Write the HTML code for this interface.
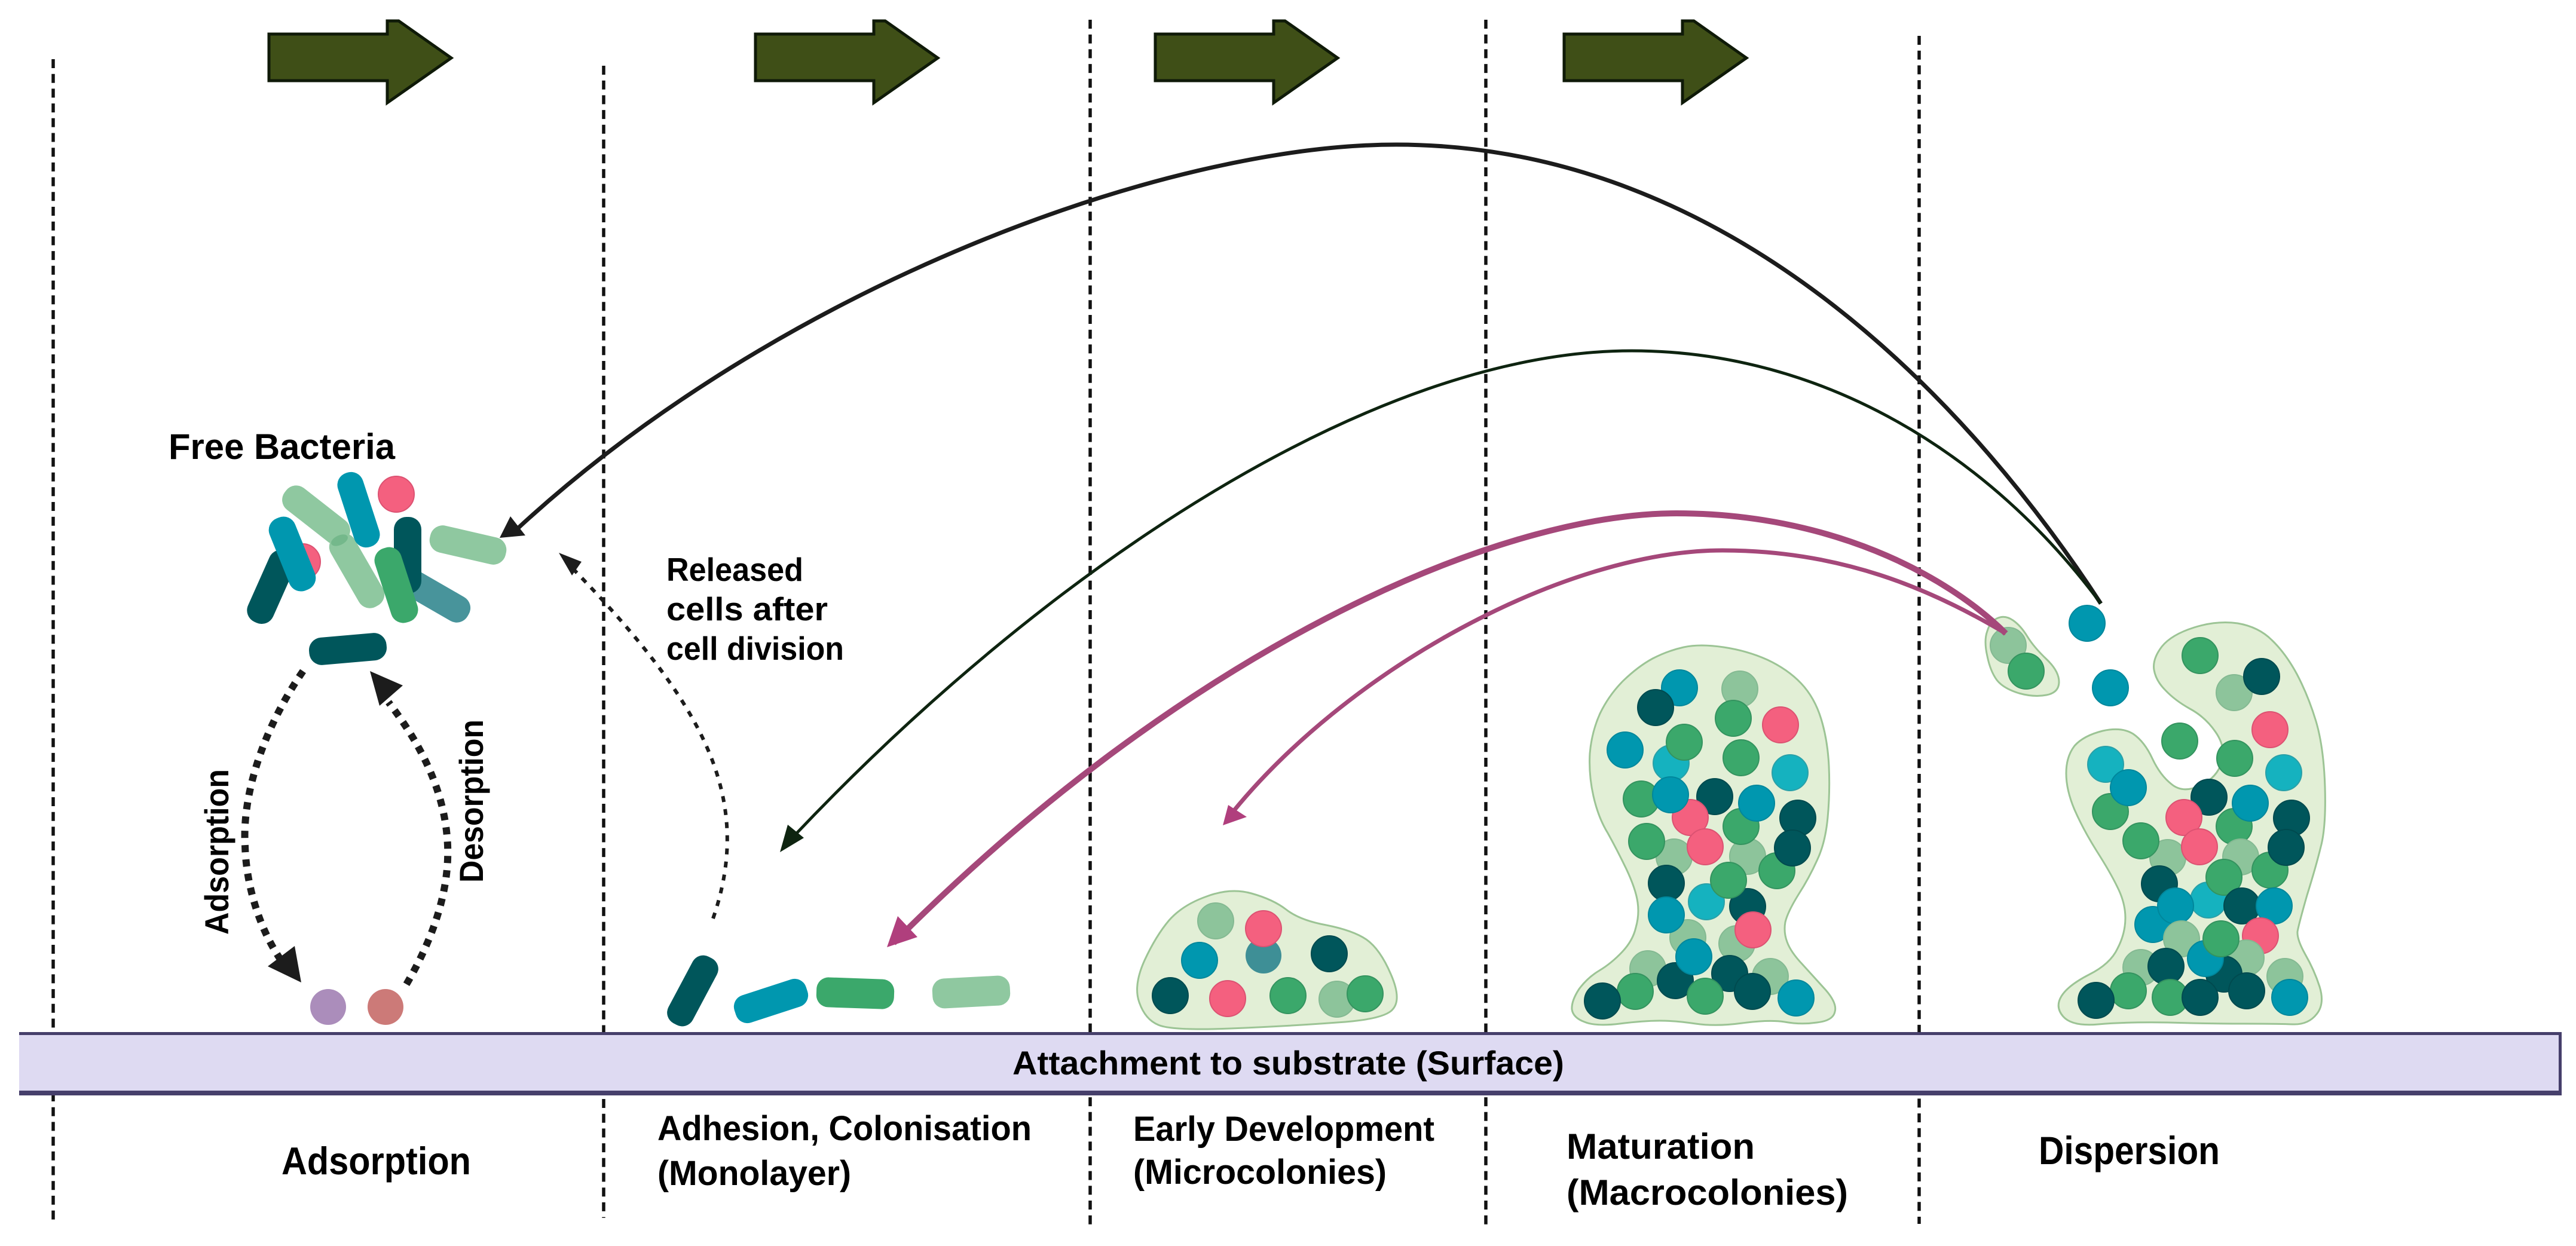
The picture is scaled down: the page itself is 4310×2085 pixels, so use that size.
<!DOCTYPE html>
<html><head><meta charset="utf-8"><style>
html,body{margin:0;padding:0;background:#fff}
svg{display:block}
text{font-family:"Liberation Sans",sans-serif;font-weight:700;font-size:58px;fill:#000}
.d{stroke:#111;stroke-width:5.5;stroke-dasharray:15 9.7;fill:none}
.t{fill:#0097af;stroke:#00879c;stroke-width:2}
.k{fill:#00565b;stroke:#004a4f;stroke-width:2}
.g{fill:#3ba86b;stroke:#34935f;stroke-width:2}
.l{fill:#8dc49b;stroke:#84b992;stroke-width:2}
.p{fill:#f4607f;stroke:#dc5272;stroke-width:2}
.c{fill:#15b2bf;stroke:#2aa0a8;stroke-width:2}
.b{fill:#e2efd6;stroke:#9cc495;stroke-width:3}
.a{fill:#3f4f17;stroke:#0f1a08;stroke-width:5}
</style></head><body>
<svg width="4310" height="2085" viewBox="0 0 4310 2085" xmlns="http://www.w3.org/2000/svg">
<rect width="4310" height="2085" fill="#fff"/>
<line class="d" x1="89" y1="99" x2="89" y2="2048"/>
<line class="d" x1="1010" y1="110" x2="1010" y2="2038"/>
<line class="d" x1="1824" y1="33" x2="1824" y2="2050"/>
<line class="d" x1="2486" y1="33" x2="2486" y2="2050"/>
<line class="d" x1="3211" y1="60" x2="3211" y2="2048"/>

<g id="arrows">
<polygon class="a" points="450,57 648,57 648,35 667,35 755,97 648,172 648,135 450,135"/>
<polygon class="a" transform="translate(814,0)" points="450,57 648,57 648,35 667,35 755,97 648,172 648,135 450,135"/>
<polygon class="a" transform="translate(1483,0)" points="450,57 648,57 648,35 667,35 755,97 648,172 648,135 450,135"/>
<polygon class="a" transform="translate(2167,0)" points="450,57 648,57 648,35 667,35 755,97 648,172 648,135 450,135"/>
</g>

<rect x="32" y="1727" width="4254" height="106" fill="#dedaf2"/>
<rect x="32" y="1727" width="4254" height="5" fill="#463f6b"/>
<rect x="32" y="1825" width="4254" height="8" fill="#463f6b"/>
<rect x="4281" y="1727" width="5" height="106" fill="#463f6b"/>
<text x="1694" y="1798" font-size="56" style="font-size:56px" textLength="923" lengthAdjust="spacingAndGlyphs">Attachment to substrate (Surface)</text>

<!-- free bacteria -->
<rect x="-65" y="-23" width="130" height="46" rx="21" fill="#48949b" transform="translate(727,997) rotate(30)"/>
<circle class="p" cx="506" cy="940" r="30"/>
<rect x="-65" y="-23" width="130" height="46" rx="21" fill="#00565b" transform="translate(454,982) rotate(-66)"/>
<rect x="-65" y="-23" width="130" height="46" rx="21" fill="#0097af" transform="translate(489,927) rotate(68)"/>
<rect x="-65" y="-23" width="130" height="46" rx="21" fill="#8fc8a0" transform="translate(529,862) rotate(38)"/>
<rect x="-68" y="-23" width="136" height="46" rx="21" fill="#8fc8a0" transform="translate(597,955) rotate(60)"/>
<rect x="-65" y="-22" width="130" height="44" rx="21" fill="#0097af" transform="translate(600,853) rotate(72)"/>
<rect x="-64" y="-23" width="128" height="46" rx="21" fill="#00565b" transform="translate(682,929) rotate(90)"/>
<rect x="-65" y="-23" width="130" height="46" rx="21" fill="#3ba86b" transform="translate(663,979) rotate(72)"/>
<rect x="-65" y="-23" width="130" height="46" rx="21" fill="#8fc8a0" transform="translate(783,912) rotate(13)"/>
<rect x="-65" y="-23" width="130" height="46" rx="21" fill="#00565b" transform="translate(582,1086) rotate(-5)"/>
<!-- monolayer -->
<rect x="-63" y="-23" width="126" height="46" rx="20" fill="#00565b" transform="translate(1159,1658) rotate(-62)"/>
<rect x="-63" y="-24" width="126" height="48" rx="20" fill="#0097af" transform="translate(1290,1675) rotate(-18)"/>
<rect x="-65" y="-25" width="130" height="50" rx="20" fill="#3ba86b" transform="translate(1431,1662) rotate(2)"/>
<rect x="-65" y="-25" width="130" height="50" rx="20" fill="#8fc8a0" transform="translate(1625,1660) rotate(-3)"/>
<ellipse cx="568" cy="904" rx="15" ry="8" transform="rotate(-25 568 904)" fill="#74b88b"/>
<circle class="p" cx="663" cy="827" r="30"/>

<circle cx="549" cy="1685" r="30" fill="#ab8dbb"/>
<circle cx="645" cy="1685" r="30" fill="#cc7a78"/>

<!-- microcolony -->
<path class="b" d="M2019,1500 Q2059,1485 2094,1495 Q2130,1505 2152,1522 Q2175,1540 2219,1548 Q2264,1557 2286,1572 Q2309,1588 2327,1630 Q2345,1671 2331,1688 Q2318,1706 2237,1711 Q2157,1717 2059,1721 Q1961,1725 1938,1715 Q1916,1706 1906,1677 Q1896,1649 1915,1607 Q1934,1566 1956,1540 Q1979,1514 2019,1500 Z"/>
<circle class="l" cx="2034" cy="1541" r="30"/>
<circle cx="2114" cy="1599" r="30" fill="#3e8f96"/>
<circle class="p" cx="2114" cy="1554" r="30"/>
<circle class="t" cx="2007" cy="1607" r="30"/>
<circle class="k" cx="2224" cy="1596" r="30"/>
<circle class="k" cx="1958" cy="1666" r="30"/>
<circle class="p" cx="2054" cy="1671" r="30"/>
<circle class="g" cx="2155" cy="1666" r="30"/>
<circle class="l" cx="2237" cy="1672" r="30"/>
<circle class="g" cx="2284" cy="1663" r="30"/>

<!-- macrocolony -->
<path class="b" d="M2817,1083 Q2844,1077 2884,1083 Q2924,1089 2957,1104 Q2991,1120 3013,1143 Q3036,1167 3047,1203 Q3058,1239 3060,1282 Q3062,1325 3058,1368 Q3054,1411 3040,1440 Q3027,1469 3009,1497 Q2991,1526 2987,1543 Q2984,1560 2990,1576 Q2996,1593 3016,1614 Q3036,1636 3055,1657 Q3074,1679 3070,1693 Q3067,1708 3040,1711 Q3013,1715 2986,1710 Q2960,1706 2915,1712 Q2871,1718 2837,1713 Q2804,1708 2777,1708 Q2750,1708 2710,1713 Q2670,1718 2651,1710 Q2632,1703 2630,1689 Q2629,1675 2642,1655 Q2656,1636 2676,1624 Q2696,1612 2714,1593 Q2732,1574 2737,1552 Q2743,1531 2740,1510 Q2737,1488 2721,1454 Q2705,1421 2690,1394 Q2674,1368 2666,1332 Q2658,1297 2660,1261 Q2663,1225 2677,1194 Q2692,1163 2716,1139 Q2741,1115 2765,1102 Q2790,1089 2817,1083 Z"/>
<circle class="l" cx="2911" cy="1153" r="30"/>
<circle class="l" cx="2801" cy="1434" r="30"/>
<circle class="l" cx="2924" cy="1433" r="30"/>
<circle class="l" cx="2824" cy="1569" r="30"/>
<circle class="l" cx="2906" cy="1579" r="30"/>
<circle class="l" cx="2757" cy="1621" r="30"/>
<circle class="l" cx="2962" cy="1634" r="30"/>
<circle class="c" cx="2796" cy="1277" r="30"/>
<circle class="c" cx="2995" cy="1293" r="30"/>
<circle class="c" cx="2855" cy="1509" r="30"/>
<circle class="t" cx="2810" cy="1151" r="30"/>
<circle class="k" cx="2770" cy="1184" r="30"/>
<circle class="g" cx="2900" cy="1202" r="30"/>
<circle class="p" cx="2979" cy="1213" r="30"/>
<circle class="t" cx="2719" cy="1255" r="30"/>
<circle class="g" cx="2818" cy="1242" r="30"/>
<circle class="g" cx="2913" cy="1268" r="30"/>
<circle class="g" cx="2746" cy="1337" r="30"/>
<circle class="k" cx="2869" cy="1333" r="30"/>
<circle class="p" cx="2828" cy="1368" r="30"/>
<circle class="t" cx="2795" cy="1330" r="30"/>
<circle class="g" cx="2913" cy="1383" r="30"/>
<circle class="t" cx="2939" cy="1344" r="30"/>
<circle class="k" cx="3008" cy="1369" r="30"/>
<circle class="g" cx="2973" cy="1457" r="30"/>
<circle class="k" cx="2999" cy="1419" r="30"/>
<circle class="g" cx="2755" cy="1408" r="30"/>
<circle class="p" cx="2853" cy="1417" r="30"/>
<circle class="k" cx="2788" cy="1478" r="30"/>
<circle class="k" cx="2924" cy="1517" r="30"/>
<circle class="g" cx="2892" cy="1473" r="30"/>
<circle class="t" cx="2788" cy="1531" r="30"/>
<circle class="p" cx="2933" cy="1556" r="30"/>
<circle class="k" cx="2803" cy="1641" r="30"/>
<circle class="t" cx="2834" cy="1601" r="30"/>
<circle class="k" cx="2894" cy="1629" r="30"/>
<circle class="g" cx="2736" cy="1659" r="30"/>
<circle class="k" cx="2681" cy="1675" r="30"/>
<circle class="g" cx="2853" cy="1667" r="30"/>
<circle class="k" cx="2932" cy="1659" r="30"/>
<circle class="t" cx="3005" cy="1670" r="30"/>

<!-- dispersion -->
<path class="b" d="M3671,1050 Q3709,1038 3744,1043 Q3779,1049 3801,1071 Q3824,1093 3843,1128 Q3862,1164 3875,1207 Q3888,1251 3890,1317 Q3892,1384 3883,1417 Q3875,1450 3860,1498 Q3846,1547 3844,1559 Q3843,1572 3857,1597 Q3872,1623 3881,1651 Q3890,1680 3876,1697 Q3862,1715 3836,1714 Q3811,1713 3753,1713 Q3696,1713 3626,1711 Q3556,1710 3511,1714 Q3467,1718 3452,1701 Q3438,1685 3449,1667 Q3460,1649 3495,1631 Q3531,1613 3543,1587 Q3556,1562 3556,1536 Q3556,1511 3543,1485 Q3531,1460 3508,1424 Q3486,1389 3471,1355 Q3457,1322 3457,1294 Q3457,1266 3471,1248 Q3486,1231 3518,1223 Q3550,1216 3569,1228 Q3588,1241 3601,1269 Q3614,1297 3633,1312 Q3652,1328 3680,1315 Q3709,1302 3717,1276 Q3725,1251 3707,1225 Q3690,1200 3664,1186 Q3639,1172 3623,1155 Q3607,1139 3604,1121 Q3601,1103 3617,1082 Q3633,1062 3671,1050 Z"/>
<path class="b" d="M3343,1034 Q3355,1029 3368,1038 Q3381,1047 3392,1065 Q3403,1083 3424,1103 Q3445,1123 3445,1141 Q3445,1159 3424,1163 Q3403,1167 3378,1160 Q3352,1152 3341,1138 Q3330,1123 3325,1098 Q3319,1072 3325,1056 Q3330,1039 3343,1034 Z"/>
<circle class="l" cx="3360" cy="1080" r="30"/>
<circle class="g" cx="3390" cy="1123" r="30"/>
<circle class="t" cx="3492" cy="1043" r="30"/>
<circle class="t" cx="3531" cy="1151" r="30"/>
<circle class="g" cx="3681" cy="1097" r="30"/>
<circle class="l" cx="3738" cy="1159" r="30"/>
<circle class="k" cx="3784" cy="1132" r="30"/>
<circle class="p" cx="3798" cy="1221" r="30"/>
<circle class="g" cx="3647" cy="1240" r="30"/>
<circle class="g" cx="3739" cy="1269" r="30"/>
<circle class="c" cx="3821" cy="1293" r="30"/>
<circle class="c" cx="3523" cy="1279" r="30"/>
<circle class="g" cx="3531" cy="1358" r="30"/>
<circle class="t" cx="3561" cy="1318" r="30"/>
<circle class="k" cx="3696" cy="1334" r="30"/>
<circle class="g" cx="3738" cy="1383" r="30"/>
<circle class="t" cx="3765" cy="1344" r="30"/>
<circle class="p" cx="3654" cy="1368" r="30"/>
<circle class="k" cx="3834" cy="1369" r="30"/>
<circle class="l" cx="3627" cy="1435" r="30"/>
<circle class="l" cx="3749" cy="1434" r="30"/>
<circle class="g" cx="3582" cy="1407" r="30"/>
<circle class="p" cx="3680" cy="1417" r="30"/>
<circle class="g" cx="3798" cy="1456" r="30"/>
<circle class="k" cx="3825" cy="1418" r="30"/>
<circle class="c" cx="3695" cy="1506" r="30"/>
<circle class="g" cx="3721" cy="1468" r="30"/>
<circle class="k" cx="3613" cy="1479" r="30"/>
<circle class="k" cx="3751" cy="1516" r="30"/>
<circle class="t" cx="3805" cy="1516" r="30"/>
<circle class="t" cx="3602" cy="1547" r="30"/>
<circle class="t" cx="3640" cy="1516" r="30"/>
<circle class="p" cx="3782" cy="1566" r="30"/>
<circle class="l" cx="3650" cy="1571" r="30"/>
<circle class="l" cx="3758" cy="1603" r="30"/>
<circle class="l" cx="3582" cy="1619" r="30"/>
<circle class="l" cx="3823" cy="1634" r="30"/>
<circle class="k" cx="3721" cy="1630" r="30"/>
<circle class="t" cx="3690" cy="1604" r="30"/>
<circle class="g" cx="3716" cy="1571" r="30"/>
<circle class="k" cx="3624" cy="1617" r="30"/>
<circle class="g" cx="3561" cy="1658" r="30"/>
<circle class="g" cx="3631" cy="1669" r="30"/>
<circle class="k" cx="3507" cy="1674" r="30"/>
<circle class="k" cx="3681" cy="1669" r="30"/>
<circle class="k" cx="3759" cy="1658" r="30"/>
<circle class="t" cx="3831" cy="1669" r="30"/>

<!-- arcs -->
<path fill="none" stroke="#1c1c1c" stroke-width="7" d="M3515,1010 C3300,680 2900,242 2336,242 C1950,242 1300,480 860,890"/>
<polygon fill="#1c1c1c" points="836,900 854,864 879,896"/>
<path fill="none" stroke="#0e2410" stroke-width="5" d="M3515,1010 C3330,760 3050,587 2730,587 C2300,587 1750,950 1318,1410"/>
<polygon fill="#0e2410" points="1305,1426 1318,1380 1345,1402"/>
<path fill="none" stroke="#a5487a" stroke-width="10" d="M3356,1060 C3255,960 3060,859 2805,859 C2500,859 1980,1090 1495,1578"/>
<polygon fill="#b03f7d" points="1484,1585 1502,1533 1535,1568"/>
<path fill="none" stroke="#a5487a" stroke-width="7" d="M3356,1060 C3230,985 3080,921 2882,921 C2620,921 2250,1120 2052,1372"/>
<polygon fill="#b03f7d" points="2046,1381 2055,1347 2086,1367"/>

<!-- dotted -->
<path fill="none" stroke="#1c1c1c" stroke-width="6" stroke-dasharray="10 12" d="M1193,1537 C1265,1330 1170,1170 957,950"/>
<polygon fill="#1c1c1c" points="935,925 973,940 957,963"/>
<path fill="none" stroke="#1c1c1c" stroke-width="12" stroke-dasharray="12 12" d="M507,1123 C440,1220 405,1330 410,1415 C412,1490 440,1570 480,1620"/>
<polygon fill="#1c1c1c" points="504,1644 493,1583 448,1617"/>
<path fill="none" stroke="#1c1c1c" stroke-width="12" stroke-dasharray="12 12" d="M680,1647 C725,1570 752,1490 749,1415 C745,1320 700,1240 650,1175"/>
<polygon fill="#1c1c1c" points="619,1123 674,1147 635,1181"/>

<!-- labels -->
<text x="282" y="768" style="font-size:60px" textLength="379" lengthAdjust="spacingAndGlyphs">Free Bacteria</text>
<text x="1115" y="972" style="font-size:55px" textLength="229" lengthAdjust="spacingAndGlyphs">Released</text>
<text x="1115" y="1038" style="font-size:55px" textLength="270" lengthAdjust="spacingAndGlyphs">cells after</text>
<text x="1115" y="1104" style="font-size:55px" textLength="297" lengthAdjust="spacingAndGlyphs">cell division</text>
<text transform="translate(382,1564) rotate(-90)" style="font-size:56px" textLength="277" lengthAdjust="spacingAndGlyphs">Adsorption</text>
<text transform="translate(808,1477) rotate(-90)" style="font-size:56px" textLength="273" lengthAdjust="spacingAndGlyphs">Desorption</text>
<text x="471" y="1965" style="font-size:65px" textLength="317" lengthAdjust="spacingAndGlyphs">Adsorption</text>
<text x="1100" y="1908" style="font-size:58px" textLength="626" lengthAdjust="spacingAndGlyphs">Adhesion, Colonisation</text>
<text x="1100" y="1983" style="font-size:58px" textLength="324" lengthAdjust="spacingAndGlyphs">(Monolayer)</text>
<text x="1896" y="1909" style="font-size:58px" textLength="504" lengthAdjust="spacingAndGlyphs">Early Development</text>
<text x="1896" y="1981" style="font-size:58px" textLength="424" lengthAdjust="spacingAndGlyphs">(Microcolonies)</text>
<text x="2621" y="1939" style="font-size:60px" textLength="315" lengthAdjust="spacingAndGlyphs">Maturation</text>
<text x="2621" y="2016" style="font-size:60px" textLength="471" lengthAdjust="spacingAndGlyphs">(Macrocolonies)</text>
<text x="3411" y="1948" style="font-size:66px" textLength="303" lengthAdjust="spacingAndGlyphs">Dispersion</text>
</svg>
</body></html>
